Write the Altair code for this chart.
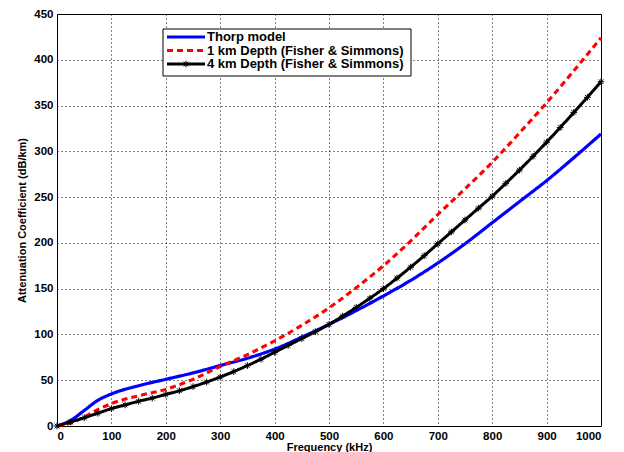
import altair as alt
import pandas as pd

# Frequencies (kHz)
freq_coarse = [0, 25, 50, 75, 100, 150, 200, 250, 300, 350, 400, 450, 500,
               550, 600, 650, 700, 750, 800, 850, 900, 950, 1000]
thorp = [0, 6, 17, 28, 35, 44, 51, 58, 66, 74, 84, 97, 111,
         126, 142, 159, 178, 199, 222, 245, 268, 293, 319]
depth_1km = [0, 3, 10, 18, 24.5, 33, 40, 51, 65, 78, 93, 110, 129,
             151, 175, 202, 231, 259, 288, 320, 353, 388, 424]

freq_fine = [0, 25, 50, 75, 100, 125, 150, 175, 200, 225, 250, 275, 300,
             325, 350, 375, 400, 425, 450, 475, 500, 525, 550, 575, 600,
             625, 650, 675, 700, 725, 750, 775, 800, 825, 850, 875, 900,
             925, 950, 975, 1000]
depth_4km = [0, 4.5, 9, 14, 19, 23, 27, 30.5, 34.5, 38.5, 43, 48, 53.5,
             59.5, 66, 73, 80.5, 88, 95.5, 103, 111, 120, 129.5, 139.5, 150,
             161.5, 173.5, 186, 199, 212, 225, 238, 251, 265, 279.5, 294.5, 310,
             326, 342.5, 359, 376]

series_names = ["Thorp model", "1 km Depth (Fisher & Simmons)",
                "4 km Depth (Fisher & Simmons)"]
legend_rows = [0, 1, 2]
x_ticks = [0, 100, 200, 300, 400, 500, 600, 700, 800, 900, 1000]
y_ticks = [0, 50, 100, 150, 200, 250, 300, 350, 400, 450]

rows = []
for f, v in zip(freq_coarse, thorp):
    rows.append({"f": f, "v": v, "s": series_names[0]})
for f, v in zip(freq_coarse, depth_1km):
    rows.append({"f": f, "v": v, "s": series_names[1]})
for f, v in zip(freq_fine, depth_4km):
    rows.append({"f": f, "v": v, "s": series_names[2]})
df = pd.DataFrame(rows)
leg_df = pd.DataFrame({"s": series_names, "row": legend_rows})

FONT = "Liberation Sans"

x_scale = alt.Scale(domain=[0, 1000], nice=False)
y_scale = alt.Scale(domain=[0, 450], nice=False)
x_enc = alt.X("f:Q", scale=x_scale,
              axis=alt.Axis(values=x_ticks, title="Frequency (kHz)", format="d",
                            labelPadding=4, titlePadding=0))
y_enc = alt.Y("v:Q", scale=y_scale,
              axis=alt.Axis(values=y_ticks, title="Attenuation Coefficient (dB/km)",
                            format="d", labelPadding=4, titlePadding=6))

color = alt.Color("s:N", scale=alt.Scale(domain=series_names,
                                         range=["#0000ff", "#ff0000", "#000000"]),
                  legend=None)
dash = alt.StrokeDash("s:N", scale=alt.Scale(domain=series_names,
                                             range=[[1, 0], [6, 4], [1, 0]]),
                      legend=None)
width = alt.StrokeWidth("s:N", scale=alt.Scale(domain=series_names,
                                               range=[3.2, 3, 1.2]),
                        legend=None)

lines = alt.Chart(df).mark_line(interpolate="monotone").encode(
    x=x_enc, y=y_enc, color=color, strokeDash=dash, strokeWidth=width,
    order=alt.Order("f:Q"))

star = "M-1,0L1,0M0,-1L0,1M-0.7,-0.7L0.7,0.7M-0.7,0.7L0.7,-0.7"
markers = alt.Chart(df[df["s"] == series_names[2]]).mark_point(
    shape=star, size=45, color="#000000", strokeWidth=1, filled=False, opacity=1
).encode(x=alt.X("f:Q", scale=x_scale), y=alt.Y("v:Q", scale=y_scale))

data_layer = alt.layer(lines, markers)

# Legend (MATLAB style box)
box = alt.Chart(leg_df.head(1)).mark_rect(
    fill="#ffffff", stroke="#000000", strokeWidth=1
).encode(x=alt.value(106), x2=alt.value(354), y=alt.value(15), y2=alt.value(62))

leg_y = alt.Y("row:Q", scale=alt.Scale(domain=[0, 2], range=[23, 50]), axis=None)
leg_lines = alt.Chart(leg_df).mark_rule().encode(
    x=alt.value(110), x2=alt.value(148), y=leg_y,
    color=color, strokeDash=dash,
    strokeWidth=alt.StrokeWidth("s:N", scale=alt.Scale(domain=series_names,
                                                       range=[3.2, 3, 1.8]),
                                legend=None))
leg_text = alt.Chart(leg_df).mark_text(
    align="left", baseline="middle", font=FONT, fontSize=13, fontWeight="bold",
    color="#000000"
).encode(x=alt.value(150), y=leg_y, text="s:N")
leg_marker = alt.Chart(leg_df[leg_df["row"] == 2]).mark_point(
    shape=star, size=45, color="#000000", strokeWidth=1, filled=False, opacity=1
).encode(x=alt.value(129), y=leg_y)
legend_layer = alt.layer(leg_lines, leg_text, leg_marker)

chart = alt.layer(data_layer, box, legend_layer).resolve_scale(
    y="independent", strokeWidth="independent"
).properties(
    width=544, height=412,
    padding={"left": 57, "top": 14, "right": 23, "bottom": 26},
    autosize=alt.AutoSizeParams(type="none"),
    background="#ffffff",
).configure_view(
    stroke="#000000", strokeWidth=1
).configure_axis(
    grid=True, gridColor="#000000", gridDash=[1, 3], gridOpacity=1, gridWidth=1,
    domain=False, ticks=False,
    labelFont=FONT, labelFontSize=11.5, labelFontWeight="bold", labelColor="#000000",
    titleFont=FONT, titleFontSize=11, titleFontWeight="bold", titleColor="#000000",
)

chart.save("out.html", embed_options={"renderer": "svg", "actions": False})
